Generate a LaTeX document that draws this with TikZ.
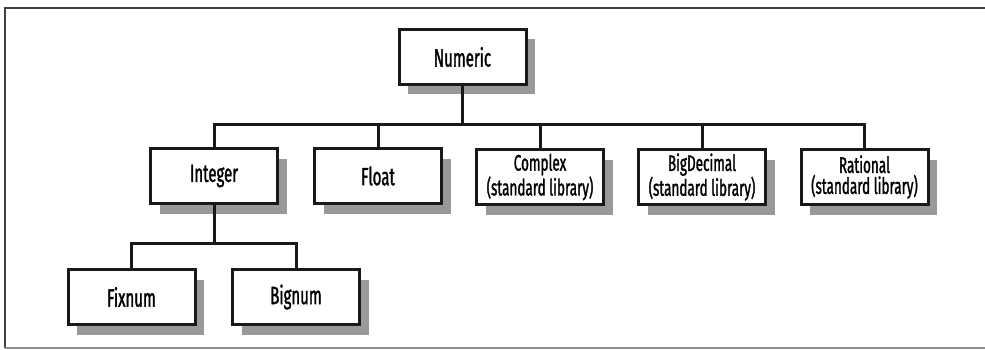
\documentclass[tikz,border=0pt]{standalone}
\usepackage{fontspec}
\setmainfont{Fira Sans}[FakeStretch=0.6, FakeBold=1.3]
\usetikzlibrary{shadows}
\begin{document}
\begin{tikzpicture}[x=1pt,y=-1pt,
  cls/.style={draw=black!90, line width=3pt, fill=white, minimum width=127pt, minimum height=55pt,
    inner sep=0pt, align=center, font=\fontsize{25}{27}\selectfont,
    drop shadow={shadow xshift=9pt, shadow yshift=-10pt, fill=black!40, opacity=1}},
  lib/.style={cls, font=\fontsize{22.5}{21}\selectfont},
  wire/.style={line width=3pt, draw=black!90}]
\fill[white] (0,0) rectangle (985,350);
\useasboundingbox (0,0) rectangle (985,350);
\draw[line width=1.5pt, black!75] (985,8) -- (5,8) -- (5,348);
\draw[line width=1.2pt, black!45] (5,348) -- (985,348);

\node[cls] (num) at (462.5,57) {Numeric};
\node[cls] (int) at (214,176) {Integer};
\node[cls] (flo) at (378,176) {Float};
\node[lib] (cpx) at (540,177) {Complex\\(standard library)};
\node[lib] (big) at (702,177) {BigDecimal\\(standard library)};
\node[lib] (rat) at (864.5,177) {Rational\\(standard library)};
\node[cls] (fix) at (131.5,297) {Fixnum};
\node[cls] (bgn) at (296,297) {Bignum};

\coordinate (bus) at (462.5,125);
\coordinate (sub) at (214,243);
\draw[wire] (num.south) -- (bus);
\draw[wire] (int.north) |- (bus) -| (rat.north);
\draw[wire] (flo.north) -- (flo.north |- bus);
\draw[wire] (cpx.north) -- (cpx.north |- bus);
\draw[wire] (big.north) -- (big.north |- bus);
\draw[wire] (int.south) -- (sub);
\draw[wire] (fix.north) |- (sub) -| (bgn.north);
\end{tikzpicture}
\end{document}
